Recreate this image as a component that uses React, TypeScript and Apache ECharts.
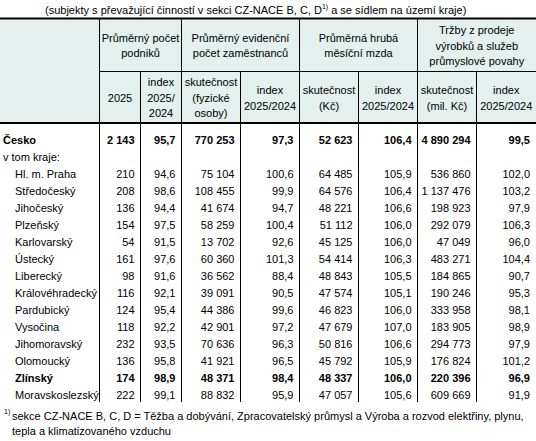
import React, { useEffect, useRef } from "react";
import * as echarts from "echarts";

const regions = [
  "Česko", "v tom kraje:", "Hl. m. Praha", "Středočeský", "Jihočeský", "Plzeňský",
  "Karlovarský", "Ústecký", "Liberecký", "Královéhradecký", "Pardubický", "Vysočina",
  "Jihomoravský", "Olomoucký", "Zlínský", "Moravskoslezský",
];
const boldRows = ["Česko", "Zlínský"];

const podniky = [2143, null, 210, 208, 136, 154, 54, 161, 98, 116, 124, 118, 232, 136, 174, 222];
const podnikyIndex = [95.7, null, 94.6, 98.6, 94.4, 97.5, 91.5, 97.6, 91.6, 92.1, 95.4, 92.2, 93.5, 95.8, 98.9, 99.1];
const zamestnanci = [770253, null, 75104, 108455, 41674, 58259, 13702, 60360, 36562, 39091, 44386, 42901, 70636, 41921, 48371, 88832];
const zamestnanciIndex = [97.3, null, 100.6, 99.9, 94.7, 100.4, 92.6, 101.3, 88.4, 90.5, 99.6, 97.2, 96.3, 96.5, 98.4, 95.9];
const mzda = [52623, null, 64485, 64576, 48221, 51112, 45125, 54414, 48843, 47574, 46823, 47679, 50816, 45792, 48337, 47057];
const mzdaIndex = [106.4, null, 105.9, 106.4, 106.6, 106.0, 106.0, 106.3, 105.5, 105.1, 106.0, 107.0, 106.6, 105.9, 106.0, 105.6];
const trzby = [4890294, null, 536860, 1137476, 198923, 292079, 47049, 483271, 184865, 190246, 333958, 183905, 294773, 176824, 220396, 609669];
const trzbyIndex = [99.5, null, 102.0, 103.2, 97.9, 106.3, 96.0, 104.4, 90.7, 95.3, 98.1, 98.9, 97.9, 101.2, 96.9, 91.9];

const groupHeaders = [
  "Průměrný počet\npodniků",
  "Průměrný evidenční\npočet zaměstnanců",
  "Průměrná hrubá\nměsíční mzda",
  "Tržby z prodeje\nvýrobků a služeb\nprůmyslové povahy",
];
const subHeaders = [
  "2025", "index\n2025/\n2024",
  "skutečnost\n(fyzické\nosoby)", "index\n2025/2024",
  "skutečnost\n(Kč)", "index\n2025/2024",
  "skutečnost\n(mil. Kč)", "index\n2025/2024",
];
const titleText = ["(subjekty s převažující činností v sekci CZ-NACE B, C, D", "1)", " a se sídlem na území kraje)"];
const footnoteMark = "1)";
const footnoteLines = [
  "sekce CZ-NACE B, C, D = Těžba a dobývání, Zpracovatelský průmysl a Výroba a rozvod elektřiny, plynu,",
  "tepla a klimatizovaného vzduchu",
];

const fmtInt = (v: number | null) => (v == null ? "" : String(v).replace(/\B(?=(\d{3})+(?!\d))/g, " "));
const fmtIdx = (v: number | null) => (v == null ? "" : v.toFixed(1).replace(".", ","));

const FONT = '"Liberation Sans", Arial, Helvetica, sans-serif';
const W = 536;
const H = 441;
const HEADER_BG = "#e3f0ed";
const colEdges = [0, 99.5, 140.5, 181.5, 240.5, 299.5, 358.5, 417.5, 476.5, 536];
const TOP = 18.5;
const MID = 71.5;
const HEAD_BOTTOM = 123;
const BODY_BOTTOM = 402;
const PAD = 6;

export default function App() {
  const ref = useRef<HTMLDivElement>(null);
  useEffect(() => {
    document.body.style.margin = "0";
    if (!ref.current) return;
    const chart = echarts.init(ref.current, undefined, { renderer: "svg" });

    const columns = [
      { values: podniky, fmt: fmtInt },
      { values: podnikyIndex, fmt: fmtIdx },
      { values: zamestnanci, fmt: fmtInt },
      { values: zamestnanciIndex, fmt: fmtIdx },
      { values: mzda, fmt: fmtInt },
      { values: mzdaIndex, fmt: fmtIdx },
      { values: trzby, fmt: fmtInt },
      { values: trzbyIndex, fmt: fmtIdx },
    ];

    type Cell = { text: string; align: string; bold: boolean };
    const cells: Cell[] = [];
    const data: number[][] = [];
    regions.forEach((name, r) => {
      const bold = boldRows.includes(name);
      cells.push({ text: name, align: "left", bold });
      data.push([r < 2 ? 3 : 15, r]);
      columns.forEach((col, c) => {
        cells.push({ text: col.fmt(col.values[r] as any), align: "right", bold });
        data.push([colEdges[c + 2] - PAD, r]);
      });
    });

    const graphics: any[] = [];
    graphics.push({
      type: "rect",
      shape: { x: 0, y: TOP + 1, width: W, height: HEAD_BOTTOM - TOP - 2 },
      style: { fill: HEADER_BG },
      z: 0,
    });
    const line = (x1: number, y1: number, x2: number, y2: number, lw = 1) => ({
      type: "line",
      shape: { x1, y1, x2, y2 },
      style: { stroke: "#000", lineWidth: lw },
      z: 5,
    });
    graphics.push(line(0, TOP, W, TOP, 2));
    graphics.push(line(colEdges[1], MID, W, MID, 1));
    graphics.push(line(0, HEAD_BOTTOM, W, HEAD_BOTTOM, 2));
    [1, 3, 5, 7].forEach((i) => graphics.push(line(colEdges[i], TOP, colEdges[i], BODY_BOTTOM)));
    [2, 4, 6, 8].forEach((i) => graphics.push(line(colEdges[i], MID, colEdges[i], BODY_BOTTOM)));

    const txt = (text: string, x: number, y: number, align = "center", extra: any = {}) => ({
      type: "text",
      x,
      y,
      z: 6,
      style: {
        text,
        fill: "#000",
        fontSize: 11,
        fontFamily: FONT,
        align,
        verticalAlign: "middle",
        lineHeight: 15.5,
        ...extra,
      },
    });
    groupHeaders.forEach((t, g) => {
      const x = (colEdges[1 + g * 2] + colEdges[3 + g * 2]) / 2;
      graphics.push(txt(t, x, (TOP + MID) / 2 + 0.5));
    });
    subHeaders.forEach((t, i) => {
      const x = (colEdges[1 + i] + colEdges[2 + i]) / 2;
      graphics.push(txt(t, x, (MID + HEAD_BOTTOM) / 2 + 0.5));
    });

    graphics.push({
      type: "text",
      x: 45,
      y: 10,
      z: 6,
      style: {
        text: `{a|${titleText[0]}}{s|${titleText[1]}}{a|${titleText[2]}}`,
        verticalAlign: "middle",
        align: "left",
        rich: {
          a: { fontSize: 11, fontFamily: FONT, fill: "#000", lineHeight: 14 },
          s: { fontSize: 7, fontFamily: FONT, fill: "#000", lineHeight: 14, verticalAlign: "top" },
        },
      },
    });
    graphics.push(txt(footnoteMark, 4, 411, "left", { fontSize: 7, lineHeight: 9 }));
    graphics.push(txt(footnoteLines[0], 12, 416, "left"));
    graphics.push(txt(footnoteLines[1], 12, 430.5, "left"));

    chart.setOption({
      animation: false,
      grid: { left: 0, right: 0, top: 131.5, height: 272, containLabel: false },
      xAxis: { type: "value", min: 0, max: W, show: false },
      yAxis: { type: "category", data: regions, inverse: true, show: false },
      graphic: graphics,
      series: [
        {
          type: "custom",
          clip: false,
          encode: { x: 0, y: 1 },
          data,
          renderItem: (params: any, api: any) => {
            const cell = cells[params.dataIndex];
            const p = api.coord([api.value(0), api.value(1)]);
            return {
              type: "text",
              x: p[0],
              y: p[1],
              style: {
                text: cell.text,
                fill: "#000",
                fontSize: 11,
                fontFamily: FONT,
                fontWeight: cell.bold ? "bold" : "normal",
                align: cell.align,
                verticalAlign: "middle",
              },
            };
          },
        },
      ],
    });
    return () => chart.dispose();
  }, []);
  return <div ref={ref} style={{ width: W, height: H }} />;
}
